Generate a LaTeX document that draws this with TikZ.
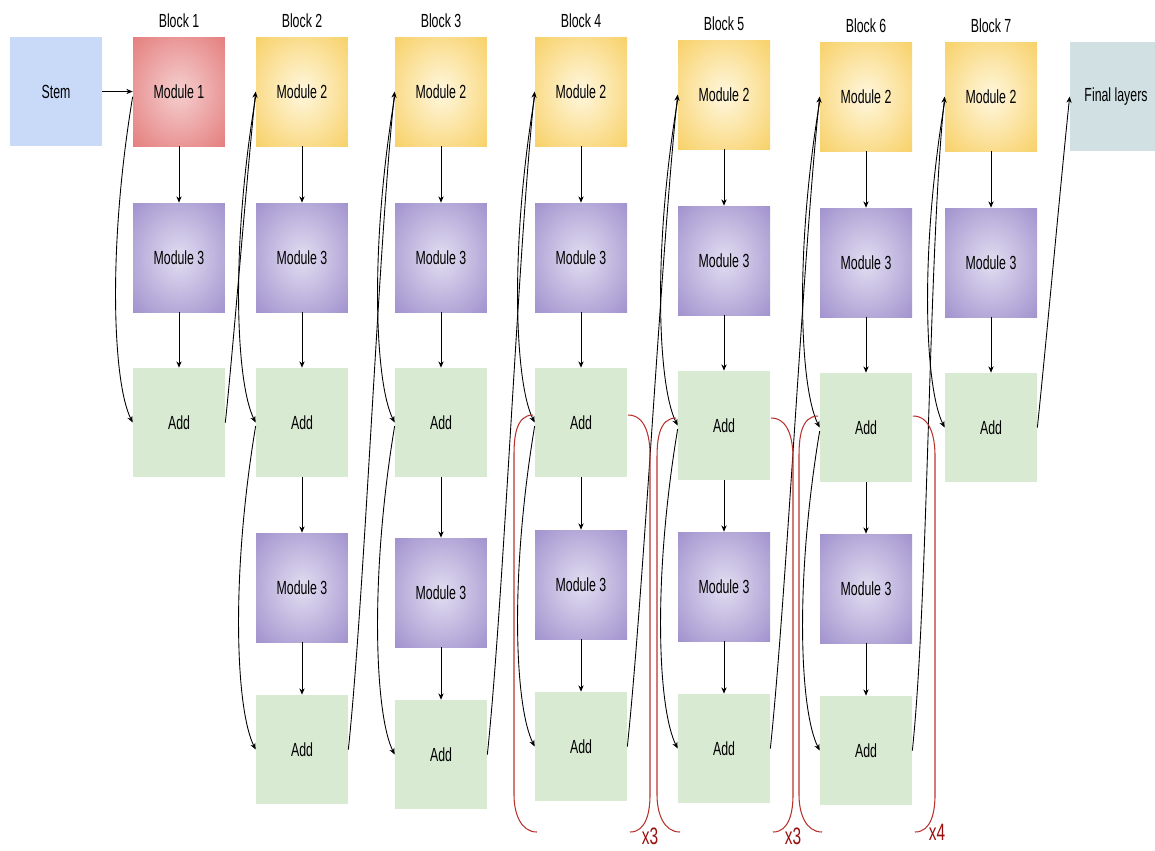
\documentclass[tikz,border=0pt]{standalone}
\usepackage{fontspec}
\setmainfont{Liberation Sans}[FakeStretch=0.65]
\usetikzlibrary{arrows.meta,positioning}
\definecolor{stemblue}{HTML}{C9DAF8}
\definecolor{addgreen}{HTML}{D9EAD3}
\definecolor{finalgray}{HTML}{D0E0E3}
\definecolor{modred}{HTML}{E06666}
\definecolor{modredin}{HTML}{F5CFCF}
\definecolor{modyellow}{HTML}{F5C545}
\definecolor{modyellowin}{HTML}{FFF7DE}
\definecolor{modpurple}{HTML}{8E7CC3}
\definecolor{modpurplein}{HTML}{E2DDF1}
\definecolor{repred}{HTML}{B8322C}
\definecolor{reptext}{HTML}{9A0E0E}
\pgfdeclareradialshading{redglow}{\pgfpoint{0bp}{0bp}}{color(0bp)=(modredin); color(46bp)=(modred); color(60bp)=(modred)}
\pgfdeclareradialshading{yellowglow}{\pgfpoint{0bp}{0bp}}{color(0bp)=(modyellowin); color(46bp)=(modyellow); color(60bp)=(modyellow)}
\pgfdeclareradialshading{purpleglow}{\pgfpoint{0bp}{0bp}}{color(0bp)=(modpurplein); color(46bp)=(modpurple); color(60bp)=(modpurple)}

\begin{document}
\begin{tikzpicture}[
    x=0.02cm, y=0.02cm,
    >={Stealth[length=3.6pt,width=3pt]},
    box/.style = {minimum width=1.84cm, minimum height=2.18cm, inner sep=0pt,
      font=\fontsize{10.8}{12}\selectfont},
    stembox/.style = {box, fill=stemblue},
    modone/.style = {box, shading=redglow},
    modtwo/.style = {box, shading=yellowglow},
    modthree/.style = {box, shading=purpleglow},
    addbox/.style = {box, fill=addgreen},
    finalbox/.style = {box, fill=finalgray},
    blocklbl/.style = {inner sep=1pt, font=\fontsize{10.8}{12}\selectfont},
    conn/.style = {->, line width=0.5pt},
    repbr/.style = {repred, line width=0.6pt},
    reptxt/.style = {reptext, inner sep=0pt, font=\fontsize{13.5}{15}\selectfont}
    ]
    \useasboundingbox (0,0) rectangle (1155,-850);

    % Stem and block 1
    \node[stembox] (stem) at (56,-91.5) {Stem};
    \node[modone] (top1) at (179,-91.5) {Module 1};
    \node[modthree] (mid1) at (179,-257.5) {Module 3};
    \node[addbox] (add1) at (179,-422.5) {Add};
    \node[blocklbl, above=4pt of top1] (lbl1) {Block 1};
    % Blocks 2 to 7, upper part
    \foreach \b/\x/\t in {2/302/0, 3/441/0, 4/581/0, 5/724/3, 6/866/5, 7/991/5} {
      \node[modtwo] (top\b) at (\x,{-91.5-\t}) {Module 2};
      \node[modthree] (mid\b) at (\x,{-257.5-\t}) {Module 3};
      \node[addbox] (add\b) at (\x,{-422.5-\t}) {Add};
      \node[blocklbl, above=4pt of top\b] (lbl\b) {Block \b};
    }
    % Blocks 2 to 6, lower part
    \foreach \b/\x/\u in {2/302/0, 3/441/5, 4/581/-3, 5/724/-1, 6/866/1} {
      \node[modthree] (midb\b) at (\x,{-587.5-\u}) {Module 3};
      \node[addbox] (addb\b) at (\x,{-749.5-\u}) {Add};
    }
    \node[finalbox] (final) at (1116,-96.5) {Final layers};

    % Straight arrows
    \draw[conn] (stem) -- (top1);
    \foreach \b in {1,...,7} {
      \draw[conn] (top\b) -- (mid\b);
      \draw[conn] (mid\b) -- (add\b);
    }
    \foreach \b in {2,...,6} {
      \draw[conn] (add\b) -- (midb\b);
      \draw[conn] (midb\b) -- (addb\b);
    }
    % Skip connections
    \foreach \b in {1,...,7}
      \draw[conn] ([yshift=-3pt]top\b.west) .. controls +(-25,-150) and +(-20,40) .. (add\b.west);
    \foreach \b in {2,...,6}
      \draw[conn] ([yshift=-2pt]add\b.west) .. controls +(-25,-150) and +(-20,40) .. (addb\b.west);
    % Block to block
    \foreach \a/\b in {add1/top2, addb2/top3, addb3/top4, addb4/top5, addb5/top6, addb6/top7, add7/final}
      \draw[conn] (\a.east) to[out=84,in=264,looseness=0.6] (\b.west);

    % Repeat brackets
    \foreach \l/\r/\y in {535/627/415, 678/770/418, 820/912/416} {
      \draw[repbr] ({\l-2},-\y) to[out=180,in=90] ({\l-21},{-\y-40})
        -- ({\l-21},-795) to[out=270,in=180] ({\l+2},-832);
      \draw[repbr] ({\r+1},-\y) to[out=0,in=90] ({\r+23},{-\y-40})
        -- ({\r+23},-795) to[out=270,in=0] ({\r+3},-832);
    }
    \node[reptxt] (rep4) at (650,-836) {x3};
    \node[reptxt] (rep5) at (793,-836) {x3};
    \node[reptxt] (rep6) at (937,-832) {x4};
\end{tikzpicture}
\end{document}
